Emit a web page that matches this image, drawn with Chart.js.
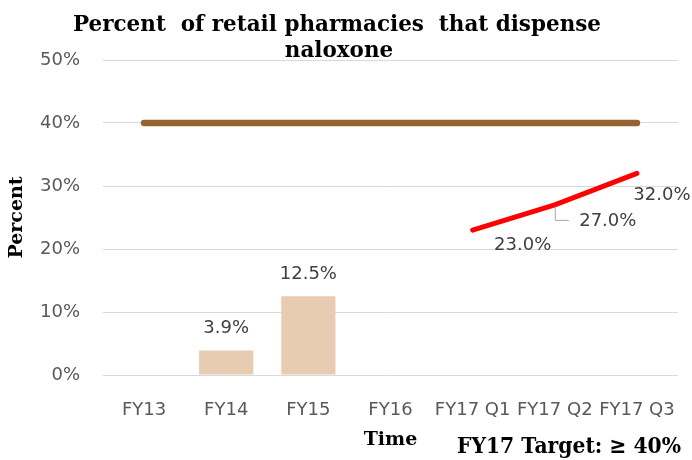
<!DOCTYPE html>
<html>
<head>
<meta charset="utf-8">
<script src="https://cdn.jsdelivr.net/npm/chart.js@4/dist/chart.umd.min.js"></script>
<style>
  html, body { margin: 0; padding: 0; background: #ffffff; }
  #wrap { width: 692px; height: 460px; position: relative; }
</style>
</head>
<body>
<div id="wrap"><canvas id="c" width="692" height="460"></canvas></div>
<script>
// ---- data ----
const categories = ['FY13', 'FY14', 'FY15', 'FY16', 'FY17 Q1', 'FY17 Q2', 'FY17 Q3'];
const barValues = [null, 3.9, 12.5, null, null, null, null];
const targetValues = [40, 40, 40, 40, 40, 40, 40];
const actualValues = [null, null, null, null, 23.0, 27.0, 32.0];
const yTickValues = [0, 10, 20, 30, 40, 50];
const titleLines = ['Percent  of retail pharmacies  that dispense', 'naloxone'];
const xTitle = 'Time';
const yTitle = 'Percent';
const targetNote = 'FY17 Target: \u2265 40%';

// ---- styling / layout (not data) ----
const SANS = '"DejaVu Sans", "Open Sans", sans-serif';
const SERIF = '"DejaVu Serif", "Liberation Serif", serif';
const lineLabelOffsets = [null, null, null, null, [50, 15], [53, 16], [25, 22]];

function drawScaledText(ctx, text, x, y, sx) {
  ctx.save();
  ctx.translate(x, y);
  ctx.scale(sx, 1);
  ctx.fillText(text, 0, 0);
  ctx.restore();
}

const labelPlugin = {
  id: 'labels',
  afterDatasetsDraw(chart) {
    const ctx = chart.ctx;
    ctx.save();
    ctx.font = '18px ' + SANS;
    ctx.fillStyle = '#404040';
    ctx.textAlign = 'center';
    ctx.textBaseline = 'middle';
    const barMeta = chart.getDatasetMeta(0);
    barMeta.data.forEach((el, i) => {
      const v = barValues[i];
      if (v == null) return;
      ctx.fillText(v.toFixed(1) + '%', el.x, el.y - 22);
    });
    const lineMeta = chart.getDatasetMeta(2);
    lineMeta.data.forEach((el, i) => {
      const v = actualValues[i];
      const off = lineLabelOffsets[i];
      if (v == null || !off) return;
      ctx.fillText(v.toFixed(1) + '%', el.x + off[0], el.y + off[1]);
      if (i === 5) {
        ctx.strokeStyle = '#a6a6a6';
        ctx.lineWidth = 1;
        ctx.beginPath();
        ctx.moveTo(el.x + 0.5, el.y + 2);
        ctx.lineTo(el.x + 0.5, el.y + 15.5);
        ctx.lineTo(el.x + 14, el.y + 15.5);
        ctx.stroke();
      }
    });
    ctx.restore();
  },
  afterDraw(chart) {
    const ctx = chart.ctx;
    ctx.save();
    ctx.fillStyle = '#000000';
    ctx.textAlign = 'center';
    ctx.textBaseline = 'alphabetic';
    ctx.font = 'bold 23px ' + SERIF;
    const w1 = ctx.measureText(titleLines[0]).width;
    const s1 = 528 / w1;
    drawScaledText(ctx, titleLines[0], 337, 31, s1);
    drawScaledText(ctx, titleLines[1], 339, 57, s1);
    ctx.textAlign = 'right';
    ctx.font = 'bold 23px ' + SERIF;
    const w2 = ctx.measureText(targetNote).width;
    drawScaledText(ctx, targetNote, 681, 453, 224 / w2);
    ctx.restore();
  }
};

new Chart(document.getElementById('c'), {
  type: 'bar',
  data: {
    labels: categories,
    datasets: [
      {
        type: 'bar',
        data: barValues,
        backgroundColor: '#E8CCB2',
        categoryPercentage: 1.0,
        barPercentage: 0.66,
        order: 3
      },
      {
        type: 'line',
        data: targetValues,
        borderColor: '#96622F',
        borderWidth: 6.5,
        borderCapStyle: 'round',
        pointRadius: 0,
        tension: 0,
        order: 2
      },
      {
        type: 'line',
        data: actualValues,
        borderColor: '#FF0000',
        borderWidth: 5,
        borderCapStyle: 'round',
        pointRadius: 0,
        tension: 0,
        spanGaps: false,
        order: 1
      }
    ]
  },
  options: {
    responsive: false,
    animation: false,
    devicePixelRatio: 1,
    layout: { padding: { top: 60, right: 14, left: 0, bottom: 0 } },
    plugins: {
      legend: { display: false },
      tooltip: { enabled: false },
      title: { display: false }
    },
    scales: {
      x: {
        grid: { display: false, drawTicks: false },
        border: { display: false },
        ticks: {
          color: '#595959',
          font: { family: SANS, size: 18 },
          padding: 25,
          maxRotation: 0,
          minRotation: 0,
          autoSkip: false
        },
        title: {
          display: true,
          text: xTitle,
          color: '#000000',
          font: { family: SERIF, size: 19, weight: 'bold' },
          padding: { top: 0, bottom: 9 }
        },
        afterFit(s) { s.height = 85; s.paddingLeft = 0; s.paddingRight = 0; }
      },
      y: {
        min: 0,
        max: 50,
        afterBuildTicks(s) { s.ticks = yTickValues.map(v => ({ value: v })); },
        grid: { color: '#D9D9D9', lineWidth: 1, drawTicks: false },
        border: { display: false },
        ticks: {
          color: '#595959',
          font: { family: SANS, size: 18 },
          padding: 23,
          callback: v => v + '%'
        },
        title: {
          display: true,
          text: yTitle,
          color: '#000000',
          font: { family: SERIF, size: 19, weight: 'bold' },
          padding: { top: 6, bottom: 0 }
        },
        afterFit(s) { s.width = 103; s.paddingTop = 0; s.paddingBottom = 0; }
      }
    }
  },
  plugins: [labelPlugin]
});
</script>
</body>
</html>
